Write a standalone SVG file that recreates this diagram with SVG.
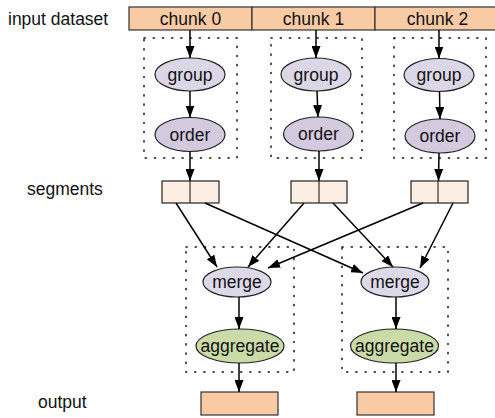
<svg xmlns="http://www.w3.org/2000/svg" width="495" height="418" viewBox="0 0 495 418">
  <style>
    text { font-family: "Liberation Sans", Arial, sans-serif; font-size: 17.5px; fill: #111; }
    .mid { text-anchor: middle; }
    .chunk { fill: #f9cba5; stroke: #333; stroke-width: 1.2; }
    .seg { fill: #fdeee3; stroke: #222; stroke-width: 1.2; }
    .out { fill: #f9cba5; stroke: #333; stroke-width: 1.2; }
    .group { fill: #dcd7e6; stroke: #222; stroke-width: 1.2; }
    .order { fill: #d3cadf; stroke: #222; stroke-width: 1.2; }
    .merge { fill: #ddd9e8; stroke: #222; stroke-width: 1.2; }
    .agg { fill: #cadba7; stroke: #222; stroke-width: 1.2; }
    .cluster { fill: none; stroke: #111; stroke-width: 1.5; stroke-dasharray: 1.2 8; stroke-linecap: round; }
    .edge { fill: none; stroke: #000; stroke-width: 1.5; marker-end: url(#arrow); }
  </style>
  <defs>
    <marker id="arrow" viewBox="0 0 12 9" refX="12" refY="4.5" markerUnits="userSpaceOnUse" markerWidth="12" markerHeight="9" orient="auto">
      <path d="M0,0 L12,4.5 L0,9 z" fill="#000"/>
    </marker>
  </defs>

  <!-- row labels -->
  <g id="labels">
    <text x="8" y="25">input dataset</text>
    <text x="27" y="195">segments</text>
    <text x="38" y="408">output</text>
  </g>

  <!-- dotted clusters -->
  <g id="clusters">
    <rect class="cluster" x="144" y="38" width="93" height="120"/>
    <rect class="cluster" x="271" y="38" width="91" height="120"/>
    <rect class="cluster" x="394" y="38" width="92" height="120"/>
    <rect class="cluster" x="186" y="247" width="108" height="125"/>
    <rect class="cluster" x="342" y="247" width="106" height="125"/>
  </g>

  <!-- input dataset chunks -->
  <g id="chunk0"><rect class="chunk" x="129" y="7" width="123" height="23"/><text class="mid" x="190.5" y="25">chunk 0</text></g>
  <g id="chunk1"><rect class="chunk" x="252" y="7" width="123" height="23"/><text class="mid" x="313.5" y="25">chunk 1</text></g>
  <g id="chunk2"><rect class="chunk" x="375" y="7" width="124" height="23"/><text class="mid" x="437.5" y="25">chunk 2</text></g>

  <!-- per-chunk processing -->
  <g id="group0"><ellipse class="group" cx="190" cy="74.5" rx="35" ry="16.5"/><text class="mid" x="190" y="80.5">group</text></g>
  <g id="group1"><ellipse class="group" cx="316" cy="74.5" rx="35" ry="16.5"/><text class="mid" x="316" y="80.5">group</text></g>
  <g id="group2"><ellipse class="group" cx="439" cy="75" rx="35" ry="16.5"/><text class="mid" x="439" y="81">group</text></g>
  <g id="order0"><ellipse class="order" cx="190" cy="134.5" rx="35" ry="17"/><text class="mid" x="190" y="140.5">order</text></g>
  <g id="order1"><ellipse class="order" cx="318.5" cy="134" rx="35" ry="17"/><text class="mid" x="318.5" y="140">order</text></g>
  <g id="order2"><ellipse class="order" cx="440" cy="136" rx="35" ry="17"/><text class="mid" x="440" y="142">order</text></g>

  <!-- segments -->
  <g id="seg0"><rect class="seg" x="162" y="181" width="57" height="22"/><line x1="190" y1="181" x2="190" y2="203" stroke="#333" stroke-width="1.2"/></g>
  <g id="seg1"><rect class="seg" x="291" y="181" width="56" height="22"/><line x1="319" y1="181" x2="319" y2="203" stroke="#333" stroke-width="1.2"/></g>
  <g id="seg2"><rect class="seg" x="411" y="181" width="57" height="22"/><line x1="438" y1="181" x2="438" y2="203" stroke="#333" stroke-width="1.2"/></g>

  <!-- merge and aggregate -->
  <g id="merge0"><ellipse class="merge" cx="237" cy="282" rx="34" ry="15"/><text class="mid" x="237" y="288">merge</text></g>
  <g id="merge1"><ellipse class="merge" cx="395" cy="282" rx="34" ry="15"/><text class="mid" x="395" y="288">merge</text></g>
  <g id="aggregate0"><ellipse class="agg" cx="240" cy="346" rx="44" ry="17"/><text class="mid" x="240" y="352">aggregate</text></g>
  <g id="aggregate1"><ellipse class="agg" cx="394.5" cy="346" rx="44" ry="17"/><text class="mid" x="394.5" y="352">aggregate</text></g>

  <!-- outputs -->
  <g id="output0"><rect class="out" x="201" y="392" width="77" height="23"/></g>
  <g id="output1"><rect class="out" x="357" y="392" width="77" height="23"/></g>

  <!-- connectors -->
  <g id="edges">
    <line class="edge" x1="190" y1="30" x2="190" y2="58"/>
    <line class="edge" x1="316" y1="30" x2="316" y2="58"/>
    <line class="edge" x1="439" y1="30" x2="439" y2="58.5"/>
    <line class="edge" x1="190" y1="91" x2="190" y2="117.5"/>
    <line class="edge" x1="317" y1="91" x2="318" y2="117"/>
    <line class="edge" x1="439.5" y1="91.5" x2="440" y2="119"/>
    <line class="edge" x1="190" y1="151.5" x2="190" y2="181"/>
    <line class="edge" x1="319" y1="151" x2="319" y2="181"/>
    <line class="edge" x1="439" y1="153" x2="438.5" y2="181"/>

    <line class="edge" x1="176" y1="203" x2="217" y2="267"/>
    <line class="edge" x1="205" y1="203" x2="363" y2="273"/>
    <line class="edge" x1="304" y1="203" x2="248" y2="267"/>
    <line class="edge" x1="333" y1="203" x2="393" y2="267"/>
    <line class="edge" x1="423" y1="203" x2="268" y2="268"/>
    <line class="edge" x1="453" y1="203" x2="420" y2="268"/>

    <line class="edge" x1="239" y1="297" x2="239" y2="329"/>
    <line class="edge" x1="396" y1="297" x2="396" y2="329"/>
    <line class="edge" x1="239" y1="363" x2="239" y2="392"/>
    <line class="edge" x1="396" y1="363" x2="396" y2="392"/>
  </g>
</svg>
